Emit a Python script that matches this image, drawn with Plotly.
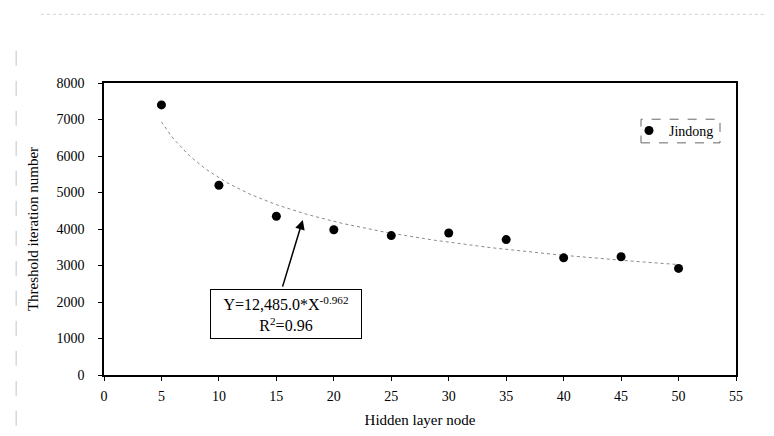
import numpy as np
import plotly.graph_objects as go

# ---- data ----
hidden_nodes = [5, 10, 15, 20, 25, 30, 35, 40, 45, 50]
iterations = [7400, 5200, 4350, 3980, 3820, 3890, 3710, 3210, 3240, 2920]
series_name = "Jindong"
x_ticks = list(range(0, 56, 5))
y_ticks = list(range(0, 8001, 1000))
eq_text = "Y=12,485.0*X<sup>-0.962</sup><br>R<sup>2</sup>=0.96"

# power trendline fitted to the points (least squares in log space)
lx = np.log(np.array(hidden_nodes, dtype=float))
ly = np.log(np.array(iterations, dtype=float))
b, ln_a = np.polyfit(lx, ly, 1)
fit_x = np.linspace(min(hidden_nodes), max(hidden_nodes), 120)
fit_y = np.exp(ln_a) * fit_x ** b

FONT = "Liberation Serif, Times New Roman, serif"

fig = go.Figure()
fig.add_trace(go.Scatter(
    x=fit_x, y=fit_y, mode="lines",
    line=dict(color="#8a8a8a", width=1, dash="dot"),
    showlegend=False, hoverinfo="skip"))
fig.add_trace(go.Scatter(
    x=hidden_nodes, y=iterations, mode="markers", name=series_name,
    marker=dict(color="black", size=9)))

# equation box
fig.add_annotation(
    x=15.85, y=1685, xref="x", yref="y", text=eq_text, showarrow=False,
    font=dict(family=FONT, size=16, color="black"), align="center",
    bordercolor="black", borderwidth=1, borderpad=1, bgcolor="white",
    width=148, height=46)
# arrow
fig.add_annotation(
    x=17.3, y=4250, ax=15.5, ay=2380, xref="x", yref="y", axref="x", ayref="y",
    text="", showarrow=True, arrowhead=2, arrowsize=1.3, arrowwidth=1.5,
    arrowcolor="black", standoff=0, startstandoff=0)

# dashed legend box
fig.add_shape(type="rect", xref="paper", yref="paper",
              x0=0.8497, x1=0.9747, y0=0.795, y1=0.876,
              line=dict(color="#666", width=1, dash="dash"))
# faint scan lines (top and left)
fig.add_shape(type="line", xref="paper", yref="paper",
              x0=-0.10, x1=1.073, y0=1.235, y1=1.235,
              line=dict(color="#d2d2d2", width=1, dash="dot"))
fig.add_shape(type="line", xref="paper", yref="paper",
              x0=-0.139, x1=-0.139, y0=1.11, y1=-0.236,
              line=dict(color="#c4c4c4", width=1, dash="longdash"))

axis_common = dict(
    showline=True, linecolor="black", linewidth=1.5, mirror=True,
    ticks="outside", ticklen=4, tickcolor="black", tickwidth=1,
    showgrid=False, zeroline=False,
    tickfont=dict(family=FONT, size=14, color="black"),
)
fig.update_xaxes(range=[0, 55], tickvals=x_ticks,
                 title=dict(text="Hidden layer node", standoff=12,
                            font=dict(family=FONT, size=15, color="black")),
                 ticklabelstandoff=3, **axis_common)
fig.update_yaxes(range=[0, 8000], tickvals=y_ticks,
                 title=dict(text="Threshold iteration number", standoff=14,
                            font=dict(family=FONT, size=15, color="black")),
                 ticklabelstandoff=11, **axis_common)

fig.update_layout(
    width=774, height=436,
    margin=dict(l=96, r=46, t=75, b=69),
    paper_bgcolor="white", plot_bgcolor="white",
    font=dict(family=FONT, size=13, color="black"),
    legend=dict(x=0.8307, y=0.836, xanchor="left", yanchor="middle",
                bgcolor="rgba(0,0,0,0)", borderwidth=0,
                font=dict(family=FONT, size=14, color="black"),
                itemwidth=30),
)

fig.write_html("out.html")
